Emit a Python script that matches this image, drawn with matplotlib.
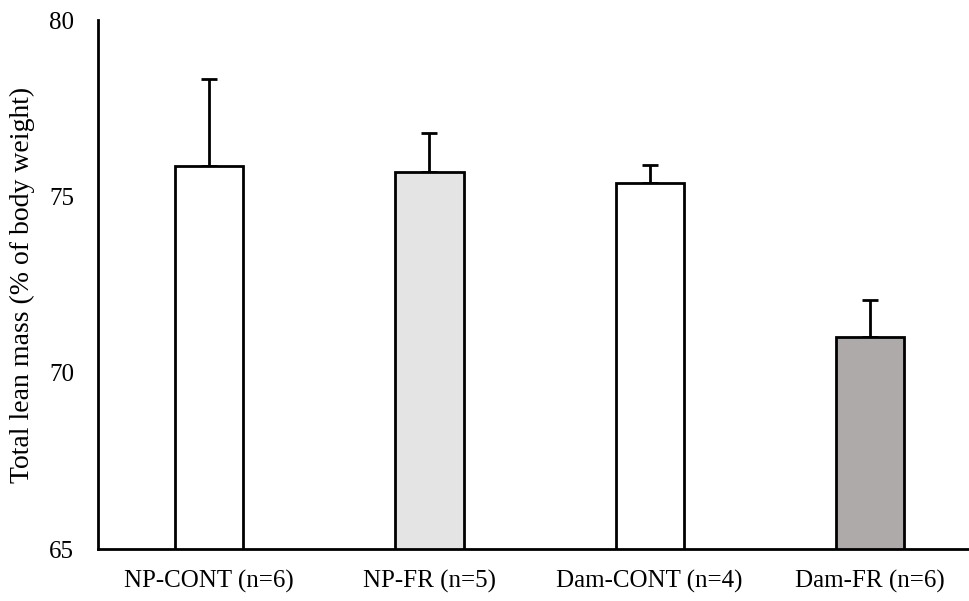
import numpy as np
import matplotlib.pyplot as plt

groups = ["NP-CONT (n=6)", "NP-FR (n=5)", "Dam-CONT (n=4)", "Dam-FR (n=6)"]
lean_mass = [75.85, 75.68, 75.37, 71.02]
sem = [2.47, 1.11, 0.51, 1.05]
fills = ["white", "#e4e4e4", "white", "#aeaaaa"]

plt.rcParams["font.family"] = ["Liberation Serif", "DejaVu Serif"]

fig = plt.figure(figsize=(9.7, 6.01), dpi=100)
ax = fig.add_axes([0.101, 0.0865, 0.897, 0.880])

x = np.arange(len(groups))
ax.bar(x, lean_mass, width=0.31, color=fills, edgecolor="black", linewidth=2, zorder=2)
ax.errorbar(x, lean_mass, yerr=[np.zeros(len(sem)), sem], fmt="none",
            ecolor="black", elinewidth=2, capsize=6, capthick=2, zorder=1)

ax.set_xlim(-0.504, 3.445)
ax.set_ylim(65, 80)
ax.set_yticks([65, 70, 75, 80])
ax.set_xticks(x)
ax.set_xticklabels(groups)
ax.tick_params(axis="both", length=0, labelsize=18)
ax.tick_params(axis="x", pad=15)
ax.tick_params(axis="y", pad=17)
ax.set_ylabel("Total lean mass (% of body weight)", fontsize=20, labelpad=10)

for side in ["top", "right"]:
    ax.spines[side].set_visible(False)
for side in ["left", "bottom"]:
    ax.spines[side].set_linewidth(2)

fig.savefig("out.png", dpi=100)
